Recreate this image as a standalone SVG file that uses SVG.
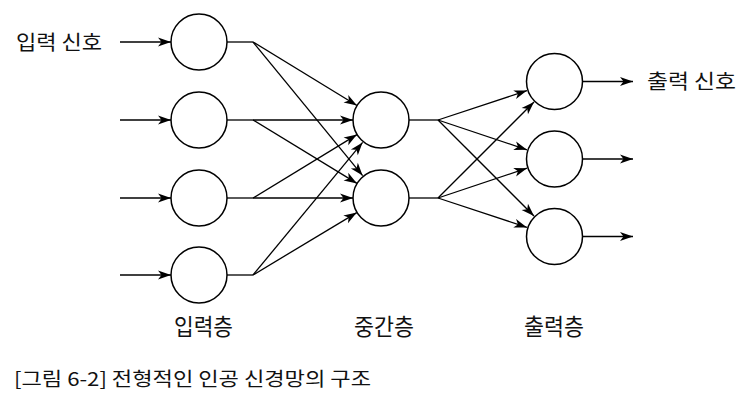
<svg xmlns="http://www.w3.org/2000/svg" width="750" height="402" viewBox="0 0 750 402">
<style>
.node{fill:#fff;stroke:#000;stroke-width:1.5}
.edge{stroke:#000;stroke-width:1.3;fill:none}
.arr{marker-end:url(#ah)}
text{font-family:"Noto Sans CJK KR","Noto Sans",sans-serif;fill:#111}
.lbl{font-size:20px}
.lay{font-size:23px}
.cap{font-size:19px}
</style>
<defs>
<marker id="ah" viewBox="-14 -6 15 12" refX="0" refY="0" markerWidth="15" markerHeight="12" markerUnits="userSpaceOnUse" orient="auto">
<path d="M0,0 L-13,-4.5 L-9.5,0 L-13,4.5 Z" fill="#000"/>
</marker>
</defs>
<rect width="750" height="402" fill="#fff"/>
<g id="connectors">
<line class="edge arr" x1="120" y1="42" x2="171" y2="42"/>
<line class="edge arr" x1="120" y1="120" x2="171" y2="120"/>
<line class="edge arr" x1="120" y1="198" x2="171" y2="198"/>
<line class="edge arr" x1="120" y1="275" x2="171" y2="275"/>
<line class="edge" x1="227" y1="42" x2="253" y2="42"/>
<line class="edge" x1="227" y1="120" x2="253" y2="120"/>
<line class="edge" x1="227" y1="198" x2="253" y2="198"/>
<line class="edge" x1="227" y1="275" x2="253" y2="275"/>
<line class="edge arr" x1="253" y1="42" x2="357" y2="105.5"/>
<line class="edge arr" x1="253" y1="42" x2="362.6" y2="175.6"/>
<line class="edge arr" x1="253" y1="120" x2="353" y2="120"/>
<line class="edge arr" x1="253" y1="120" x2="357" y2="183.4"/>
<line class="edge arr" x1="253" y1="198" x2="357" y2="134.6"/>
<line class="edge arr" x1="253" y1="198" x2="353" y2="198"/>
<line class="edge arr" x1="253" y1="275" x2="362.6" y2="142.4"/>
<line class="edge arr" x1="253" y1="275" x2="356.8" y2="212.6"/>
<line class="edge" x1="409" y1="120" x2="438" y2="120"/>
<line class="edge" x1="409" y1="198" x2="438" y2="198"/>
<line class="edge arr" x1="438" y1="120" x2="527" y2="90.6"/>
<line class="edge arr" x1="438" y1="120" x2="527" y2="149.8"/>
<line class="edge arr" x1="438" y1="120" x2="534" y2="216"/>
<line class="edge arr" x1="438" y1="198" x2="534" y2="102"/>
<line class="edge arr" x1="438" y1="198" x2="527" y2="168.2"/>
<line class="edge arr" x1="438" y1="198" x2="527" y2="227.4"/>
<line class="edge arr" x1="582.5" y1="81.5" x2="633" y2="81.5"/>
<line class="edge arr" x1="582.5" y1="159" x2="633" y2="159"/>
<line class="edge arr" x1="582.5" y1="236.5" x2="633" y2="236.5"/>
</g>
<g id="in1"><circle class="node" cx="199" cy="42" r="28"/></g>
<g id="in2"><circle class="node" cx="199" cy="120" r="28"/></g>
<g id="in3"><circle class="node" cx="199" cy="198" r="28"/></g>
<g id="in4"><circle class="node" cx="199" cy="275" r="28"/></g>
<g id="mid1"><circle class="node" cx="381" cy="120" r="28"/></g>
<g id="mid2"><circle class="node" cx="381" cy="198" r="28"/></g>
<g id="out1"><circle class="node" cx="554.5" cy="81.5" r="28"/></g>
<g id="out2"><circle class="node" cx="554.5" cy="159" r="28"/></g>
<g id="out3"><circle class="node" cx="554.5" cy="236.5" r="28"/></g>
<g id="labels">
<text class="lbl" x="16" y="50" textLength="86" lengthAdjust="spacingAndGlyphs">입력 신호</text>
<text class="lbl" x="647" y="89" textLength="89" lengthAdjust="spacingAndGlyphs">출력 신호</text>
<text class="lay" x="174" y="335" textLength="59" lengthAdjust="spacingAndGlyphs">입력층</text>
<text class="lay" x="354" y="335" textLength="60" lengthAdjust="spacingAndGlyphs">중간층</text>
<text class="lay" x="524" y="335" textLength="60" lengthAdjust="spacingAndGlyphs">출력층</text>
<text class="cap" x="14" y="386" textLength="357" lengthAdjust="spacingAndGlyphs">[그림 6-2] 전형적인 인공 신경망의 구조</text>
</g>
</svg>
